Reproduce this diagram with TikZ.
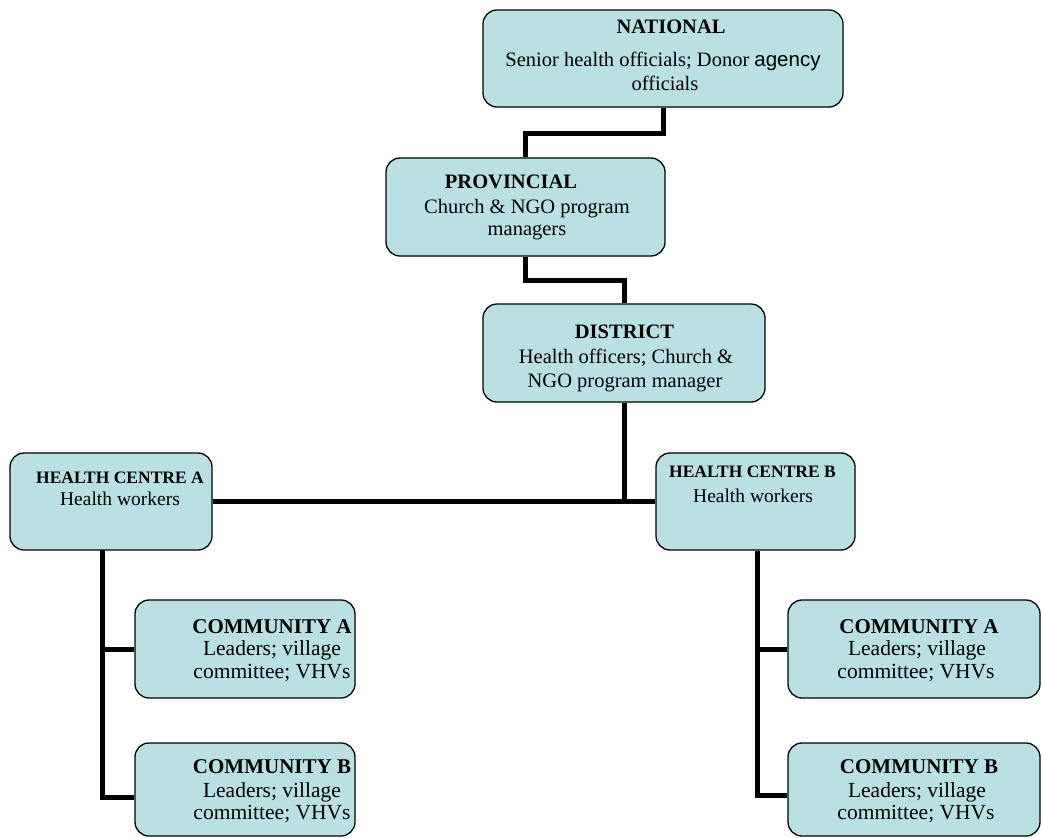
\documentclass[tikz,border=0pt]{standalone}
\usepackage{fontspec}
\setmainfont{Liberation Serif}
\newfontfamily\arialfont{Liberation Sans}
\usetikzlibrary{backgrounds}
\definecolor{boxfill}{RGB}{186,224,227}
\begin{document}
\begin{tikzpicture}[x=1pt,y=-1pt,
  box/.style={draw=black, line width=1.3pt, fill=boxfill, rounded corners=14pt, inner sep=0pt},
  conn/.style={draw=black, line width=5pt, line join=miter},
  txt/.style={anchor=base, inner sep=0pt, font=\fontsize{20.5}{24}\selectfont},
  head/.style={anchor=base, inner sep=0pt, font=\fontsize{20.5}{24}\selectfont\bfseries},
  hchead/.style={anchor=base, inner sep=0pt, font=\fontsize{17.5}{21}\selectfont\bfseries},
  hctxt/.style={anchor=base, inner sep=0pt, font=\fontsize{19.5}{23}\selectfont},
  ctxt/.style={anchor=base, inner sep=0pt, font=\fontsize{21.5}{25}\selectfont},
  chead/.style={anchor=base, inner sep=0pt, font=\fontsize{21}{25}\selectfont\bfseries}]
\useasboundingbox (0,0) rectangle (1042,838);

% boxes
\node[box, minimum width=360pt, minimum height=97pt] (nat) at (663,58.5) {};
\node[box, minimum width=279pt, minimum height=98pt] (prov) at (525.5,207) {};
\node[box, minimum width=282pt, minimum height=98pt] (dist) at (624,353) {};
\node[box, minimum width=202pt, minimum height=97pt] (hca) at (111,501.5) {};
\node[box, minimum width=199pt, minimum height=97pt] (hcb) at (755.5,501.5) {};
\node[box, minimum width=220pt, minimum height=98pt] (ca1) at (245,649) {};
\node[box, minimum width=220pt, minimum height=93pt] (cb1) at (245,789.5) {};
\node[box, minimum width=252pt, minimum height=98pt] (ca2) at (914,649) {};
\node[box, minimum width=252pt, minimum height=93pt] (cb2) at (914,789.5) {};

% texts
\node[head] (natH) at (671,33) {NATIONAL};
\node[txt] (natL1) at (663,66) {Senior health officials; Donor {\arialfont agency}};
\node[txt] (natL2) at (665,90) {officials};

\node[head] (provH) at (511,188) {PROVINCIAL};
\node[txt] (provL1) at (527,213) {Church \& NGO program};
\node[txt] (provL2) at (527,235) {managers};

\node[head] (distH) at (624.5,338) {DISTRICT};
\node[txt] (distL1) at (626,363) {Health officers; Church \&};
\node[txt] (distL2) at (625,387) {NGO program manager};

\node[hchead] (hcaH) at (120,483) {HEALTH CENTRE A};
\node[hctxt] (hcaL) at (120,505) {Health workers};
\node[hchead] (hcbH) at (752.5,477) {HEALTH CENTRE B};
\node[hctxt] (hcbL) at (753,502) {Health workers};

\node[chead] (ca1H) at (272,633) {COMMUNITY A};
\node[ctxt] (ca1L1) at (272,655) {Leaders; village};
\node[ctxt] (ca1L2) at (272,678) {committee; VHVs};
\node[chead] (cb1H) at (272,773) {COMMUNITY B};
\node[ctxt] (cb1L1) at (272,797) {Leaders; village};
\node[ctxt] (cb1L2) at (272,819) {committee; VHVs};

\node[chead] (ca2H) at (919,633) {COMMUNITY A};
\node[ctxt] (ca2L1) at (917,655) {Leaders; village};
\node[ctxt] (ca2L2) at (916,678) {committee; VHVs};
\node[chead] (cb2H) at (919,773) {COMMUNITY B};
\node[ctxt] (cb2L1) at (917,797) {Leaders; village};
\node[ctxt] (cb2L2) at (916,819) {committee; VHVs};

% elbow coordinates
\coordinate (e1) at (0,133);
\coordinate (e2) at (0,280);
\coordinate (lt) at (102,550);
\coordinate (lb) at (102,797);
\coordinate (rb) at (757,795);

\begin{pgfonlayer}{background}
\draw[conn] (nat.south) -- (nat.south |- e1) -| (prov.north);
\draw[conn] (prov.south) -- (prov.south |- e2) -| (dist.north);
\draw[conn] (dist.south) -- (dist.south |- hca.east);
\draw[conn] (hca.east) -- (hcb.west);
\draw[conn] (lt) -- (lb) -- (lb -| cb1.west);
\draw[conn] (lt |- ca1.west) -- (ca1.west);
\draw[conn] (hcb.south -| rb) -- (rb) -- (rb -| cb2.west);
\draw[conn] (rb |- ca2.west) -- (ca2.west);
\end{pgfonlayer}
\end{tikzpicture}
\end{document}
